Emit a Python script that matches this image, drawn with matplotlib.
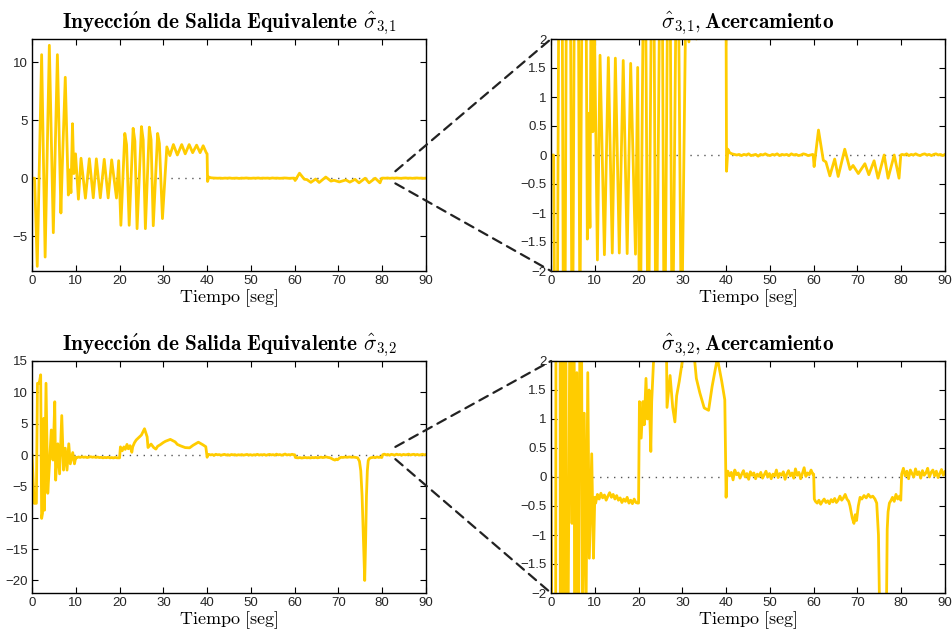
import numpy as np
import matplotlib
matplotlib.use('Agg')
import matplotlib.pyplot as plt
from matplotlib.patches import ConnectionPatch
from matplotlib.ticker import FuncFormatter

plt.rcParams['mathtext.fontset'] = 'cm'
plt.rcParams['font.family'] = ['Liberation Sans', 'DejaVu Sans']

# ---- sigma_3,1 : oscillating start (0-40 s)
t31_osc = [0.0, 0.6, 1.2, 2.2, 3.0, 3.96, 4.87, 5.8, 6.6, 6.9,
           7.6, 8.3, 8.5, 8.9, 9.25, 9.55, 9.95, 10.6, 11.2, 12.2,
           13.1, 14.0, 14.7, 15.6, 16.5, 17.4, 18.2, 19.3, 19.8, 20.3,
           21.2, 21.6, 22.2, 23.1, 23.5, 24.0, 25.0, 25.4, 25.9, 26.8,
           27.2, 27.7, 28.7, 29.1, 29.8, 30.8, 31.5, 32.3, 33.2, 34.2,
           35.0, 35.9, 36.7, 37.6, 38.4, 39.1, 39.8, 40.0, 40.1, 40.4]
s31_osc = [0.0, 0.0, -7.6, 10.65, -6.8, 11.46, -4.7, 10.65, -3.0, 0.8,
           8.7, -1.45, 0.72, -1.25, 4.7, 0.4, 2.1, -1.81, 1.72, -1.72,
           1.68, -1.69, 1.67, -1.69, 1.63, -1.70, 1.58, -1.71, 1.51, -4.06,
           3.86, 2.9, -4.06, 4.3, 3.2, -4.35, 4.45, 3.3, -4.35, 4.4,
           3.3, -4.1, 3.86, 3.0, -3.48, 2.7, 1.95, 2.9, 2.0, 2.9,
           2.1, 2.9, 2.2, 2.85, 2.2, 2.8, 2.2, 2.1, -0.28, 0.1]
# small residual 40.8 - 59.8 s
s31_rest_a = [0.04, 0.02, 0.01, 0.0, 0.01, -0.01, 0.01, 0.0, 0.02, -0.01,
              0.0, 0.01, -0.02, 0.01, 0.0, 0.02, 0.0, -0.01, 0.01, 0.0,
              0.02, -0.01, 0.01, 0.0, 0.01, -0.01, 0.02, 0.0, 0.01, -0.01,
              0.0, 0.02, 0.01, -0.01, 0.0, 0.01]
# disturbance 60 - 80 s
t31_ev = [59.9, 60.1, 61.1, 62.2, 62.8, 63.7, 64.8, 65.6, 67.1, 68.3,
          69.0, 70.2, 71.7, 72.6, 73.8, 74.7, 76.1, 77.0, 78.4, 79.5, 79.9]
s31_ev = [0.0, -0.2, 0.43, -0.09, -0.12, -0.36, -0.07, -0.37, 0.1, -0.25,
          -0.18, -0.32, -0.15, -0.34, -0.1, -0.4, 0.0, -0.4, 0.0, -0.4, 0.0]
# residual 80.2 - 90 s
s31_rest_b = [0.01, 0.0, 0.02, -0.01, 0.01, 0.0, 0.02, 0.0, -0.01, 0.01,
              0.02, 0.0, 0.01, -0.01, 0.01, 0.02, 0.0, 0.01, -0.01, 0.01]

# ---- sigma_3,2
t32_osc = [0.0, 0.5, 1.0, 1.25, 1.65, 1.98, 2.2, 2.4, 2.69, 2.84,
           3.2, 3.6, 4.0, 4.4, 4.8, 5.2, 5.4, 5.9, 6.3, 6.8,
           7.2, 7.6, 8.0, 8.4, 8.75, 9.3, 9.7, 10.0]
s32_osc = [0.0, -7.7, -7.7, 11.45, 11.45, 12.8, -10.1, -9.3, 5.86, -8.8,
           11.45, -6.1, -1.3, 4.0, -0.8, 8.5, -4.0, 1.8, -3.0, 6.3,
           -2.4, 1.1, -2.4, 1.8, -1.4, 0.4, -1.4, -0.35]
# 10.2 - 19.8 s
s32_rest_a = [-0.45, -0.30, -0.38, -0.28, -0.36, -0.31, -0.40, -0.33, -0.27, -0.35,
              -0.30, -0.38, -0.32, -0.40, -0.36, -0.44, -0.38, -0.42, -0.35, -0.45,
              -0.40, -0.46, -0.38, -0.44, -0.45]
t32_mid = [20.0, 20.2, 20.6, 21.0, 21.3, 21.7, 22.0, 22.4, 22.8, 23.0,
           23.4, 23.8, 24.4, 25.0, 25.7, 26.3, 26.5, 27.2, 27.8, 28.3,
           28.7, 29.3, 30.0, 30.5, 31.6, 32.7, 33.2, 34.0, 35.0, 36.0,
           36.8, 38.0, 39.0, 39.7, 40.0, 40.2]
s32_mid = [-0.45, 1.3, 0.67, 1.3, 0.9, 1.7, 1.0, 1.5, 0.44, 1.3,
           1.96, 2.4, 2.8, 3.2, 4.2, 2.9, 1.2, 1.75, 1.2, 0.95,
           1.4, 1.65, 2.0, 2.2, 2.5, 2.1, 1.7, 1.45, 1.19, 1.15,
           1.56, 2.05, 1.65, 1.33, -0.35, 0.1]
# 40.4 - 59.8 s
s32_rest_b = [0.10, 0.02, 0.08, -0.05, 0.12, 0.04, 0.07, -0.02, 0.05, 0.11,
              0.0, 0.06, -0.04, 0.09, 0.03, 0.07, -0.03, 0.05, 0.01, 0.08,
              -0.02, 0.04, 0.10, 0.0, 0.06, -0.03, 0.05, 0.02, 0.12, -0.01,
              0.06, 0.03, 0.09, -0.04, 0.05, 0.11, 0.02, 0.07, -0.02, 0.14,
              0.03, 0.08, -0.03, 0.06, 0.16, 0.01, 0.07, 0.04, 0.12, 0.05]
# 60.4 - 68.0 s
s32_rest_c = [-0.42, -0.45, -0.40, -0.47, -0.42, -0.38, -0.44, -0.41, -0.46, -0.39,
              -0.43, -0.37, -0.44, -0.40, -0.33, -0.40, -0.36, -0.30, -0.38, -0.42]
t32_ev = [68.3, 68.8, 69.2, 69.5, 69.8, 70.2, 70.6, 71.0, 71.5, 72.0,
          72.5, 73.0, 73.5, 74.0, 74.4, 74.8, 75.1, 75.4, 75.7, 76.0,
          76.2, 76.4, 76.6, 76.8, 77.0, 77.3, 77.7, 78.0, 78.4, 78.8,
          79.2, 79.6, 79.9]
s32_ev = [-0.5, -0.7, -0.8, -0.65, -0.75, -0.5, -0.35, -0.38, -0.32, -0.36,
          -0.30, -0.35, -0.33, -0.38, -0.45, -1.0, -2.5, -6.5, -13.0, -20.0,
          -14.0, -6.5, -2.5, -0.9, -0.6, -0.45, -0.4, -0.35, -0.42, -0.30,
          -0.38, -0.33, -0.4]
# 80.1 - 90 s
s32_rest_d = [0.05, 0.15, 0.02, 0.10, -0.03, 0.12, 0.06, 0.0, 0.14, 0.04,
              0.09, -0.02, 0.11, 0.03, 0.07, 0.15, 0.0, 0.08, 0.12, 0.02,
              0.10, -0.01, 0.06, 0.13, 0.03, 0.09]

t31 = np.concatenate([t31_osc, np.linspace(40.8, 59.8, len(s31_rest_a)),
                      t31_ev, np.linspace(80.2, 90, len(s31_rest_b))])
s31 = np.concatenate([s31_osc, s31_rest_a, s31_ev, s31_rest_b])

t32 = np.concatenate([t32_osc, np.linspace(10.2, 19.8, len(s32_rest_a)), t32_mid,
                      np.linspace(40.4, 59.8, len(s32_rest_b)), [60.0, 60.15],
                      np.linspace(60.4, 68.0, len(s32_rest_c)), t32_ev,
                      np.linspace(80.1, 90, len(s32_rest_d))])
s32 = np.concatenate([s32_osc, s32_rest_a, s32_mid, s32_rest_b, [0.05, -0.38],
                      s32_rest_c, s32_ev, s32_rest_d])

YELLOW = '#FFCC00'
W, H = 953.0, 639.0


def fmt(v, pos):
    return ('%g' % v).replace('-', '\u2212')


def style(ax, ylim, yticks):
    ax.set_xlim(0, 90)
    ax.set_ylim(ylim)
    ax.set_xticks(range(0, 91, 10))
    ax.set_yticks(yticks)
    ax.yaxis.set_major_formatter(FuncFormatter(fmt))
    ax.tick_params(direction='in', top=True, right=True, length=4, width=0.8,
                   labelsize=9.5, labelcolor='#262626', pad=3)
    for sp in ax.spines.values():
        sp.set_linewidth(1.0)
    ax.set_xlabel(r'$\mathrm{Tiempo\ [seg]}$', fontsize=13, labelpad=0)


fig = plt.figure(figsize=(9.53, 6.39), dpi=100)
ax1 = fig.add_axes([32 / W, 1 - 271 / H, 394 / W, 232 / H])
ax2 = fig.add_axes([551 / W, 1 - 271 / H, 394 / W, 232 / H])
ax3 = fig.add_axes([32 / W, 1 - 593 / H, 394 / W, 232 / H])
ax4 = fig.add_axes([551 / W, 1 - 593 / H, 394 / W, 232 / H])

for ax, t, s in [(ax1, t31, s31), (ax2, t31, s31), (ax3, t32, s32), (ax4, t32, s32)]:
    ax.axhline(0, color='#555555', lw=1.0, ls=(0, (1, 4)), zorder=1)
    ax.plot(t, s, color=YELLOW, lw=2.0, zorder=2)

style(ax1, (-8, 12), [-5, 0, 5, 10])
style(ax2, (-2, 2), np.arange(-2, 2.01, 0.5))
style(ax3, (-22, 15), range(-20, 16, 5))
style(ax4, (-2, 2), np.arange(-2, 2.01, 0.5))

TS = 15.3
ax1.set_title(r'$\mathbf{Inyecci\acute{o}n\ de\ Salida\ Equivalente}\ \hat{\sigma}_{3,\!1}$',
              fontsize=TS, pad=8)
ax2.set_title(r'$\hat{\sigma}_{3,\!1}\mathbf{,Acercamiento}$', fontsize=TS, pad=8)
ax3.set_title(r'$\mathbf{Inyecci\acute{o}n\ de\ Salida\ Equivalente}\ \hat{\sigma}_{3,\!2}$',
              fontsize=TS, pad=8)
ax4.set_title(r'$\hat{\sigma}_{3,\!2}\mathbf{,Acercamiento}$', fontsize=TS, pad=8)

# zoom guide lines
for axa, axb, ya, yb in [(ax1, ax2, 0.6, -0.45), (ax3, ax4, 1.3, -0.65)]:
    for y0, y1 in [(ya, 2), (yb, -2)]:
        con = ConnectionPatch(xyA=(83.0, y0), coordsA=axa.transData,
                              xyB=(0, y1), coordsB=axb.transData,
                              color='#222222', lw=1.6, ls=(0, (4.3, 2.9)), zorder=5)
        fig.add_artist(con)

fig.savefig('out.png', dpi=100)
